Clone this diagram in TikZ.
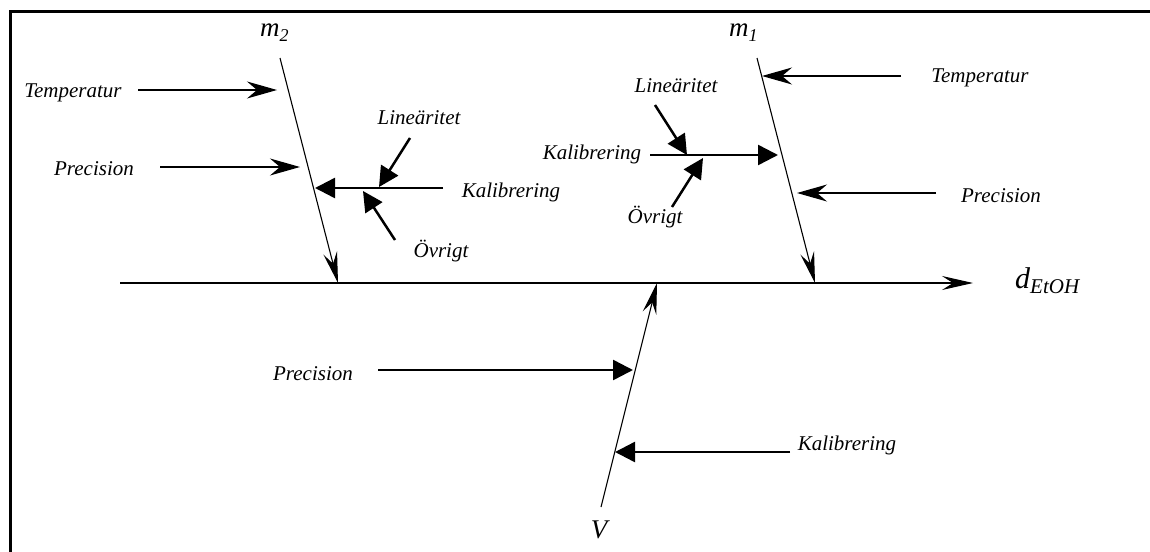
\documentclass[tikz,border=0pt]{standalone}
\usepackage{fontspec}
\setmainfont{Liberation Serif}
\usetikzlibrary{arrows.meta}
\begin{document}
\begin{tikzpicture}[x=1pt,y=-1pt,
  lbl/.style={font=\fontsize{21}{21}\selectfont\itshape, inner sep=0pt, anchor=base},
  var/.style={font=\fontsize{27}{27}\selectfont\itshape, inner sep=0pt, anchor=base west},
  spine/.style={line width=1.1pt, -{Stealth[length=31pt,width=14pt,inset=11pt]}},
  cause/.style={line width=1.1pt, -{Stealth[length=30pt,width=17pt,inset=10pt]}},
  subcause/.style={line width=2.5pt, -{Triangle[length=20pt,width=20pt]}},
  frame/.style={line width=2.7pt}]
\useasboundingbox (0,0) rectangle (1150,551);

% frame (only its left and top sides fall inside the page)
\draw[frame] (10.7,600) -- (10.7,11.3) -- (1200,11.3);

% main axis
\coordinate (a0) at (120,283);
\coordinate (a1) at (973,283);
\draw[spine] (a0) -- (a1);
\node[var, font=\fontsize{30}{30}\selectfont\itshape] (d) at (1015,288)
  {d\raisebox{-5pt}{\fontsize{21}{21}\selectfont EtOH}};

% m2 bone
\node[var] (m2) at (260,37) {m\raisebox{-5pt}{\fontsize{18}{18}\selectfont 2}};
\coordinate (m2top) at (280,58);
\coordinate (m2foot) at (338,283);
\draw[spine] (m2top) -- (m2foot);

\node[lbl] (t2) at (73,97) {Temperatur};
\coordinate (t2s) at (138,90); \coordinate (t2e) at (277,90);
\draw[cause] (t2s) -- (t2e);

\node[lbl] (p2) at (94,175) {Precision};
\coordinate (p2s) at (160,167); \coordinate (p2e) at (300,167);
\draw[cause] (p2s) -- (p2e);

\node[lbl] (k2) at (511,197) {Kalibrering};
\coordinate (k2s) at (443,188); \coordinate (k2e) at (315,188);
\draw[subcause] (k2s) -- (k2e);

\node[lbl] (l2) at (419,124) {Lineäritet};
\coordinate (l2s) at (410,138); \coordinate (l2e) at (379,187);
\draw[subcause] (l2s) -- (l2e);

\node[lbl] (o2) at (441,257) {Övrigt};
\coordinate (o2s) at (395,240); \coordinate (o2e) at (363,191);
\draw[subcause] (o2s) -- (o2e);

% m1 bone
\node[var] (m1) at (729,37) {m\raisebox{-5pt}{\fontsize{18}{18}\selectfont 1}};
\coordinate (m1top) at (757,58);
\coordinate (m1foot) at (815,283);
\draw[spine] (m1top) -- (m1foot);

\node[lbl] (t1) at (980,82) {Temperatur};
\coordinate (t1s) at (901,76); \coordinate (t1e) at (762,76);
\draw[cause] (t1s) -- (t1e);

\node[lbl] (p1) at (1001,202) {Precision};
\coordinate (p1s) at (936,193); \coordinate (p1e) at (797,193);
\draw[cause] (p1s) -- (p1e);

\node[lbl] (k1) at (592,159) {Kalibrering};
\coordinate (k1s) at (650,155); \coordinate (k1e) at (778,155);
\draw[subcause] (k1s) -- (k1e);

\node[lbl] (l1) at (676,92) {Lineäritet};
\coordinate (l1s) at (655,105); \coordinate (l1e) at (687,155);
\draw[subcause] (l1s) -- (l1e);

\node[lbl] (o1) at (655,223) {Övrigt};
\coordinate (o1s) at (672,207); \coordinate (o1e) at (703,158);
\draw[subcause] (o1s) -- (o1e);

% V bone
\node[lbl, font=\fontsize{27}{27}\selectfont\itshape] (V) at (599,538) {V};
\coordinate (vfoot) at (601,507);
\coordinate (vtop) at (657,283);
\draw[spine] (vfoot) -- (vtop);

\node[lbl] (pv) at (313,380) {Precision};
\coordinate (pvs) at (378,370); \coordinate (pve) at (633,370);
\draw[subcause] (pvs) -- (pve);

\node[lbl] (kv) at (847,450) {Kalibrering};
\coordinate (kvs) at (790,452); \coordinate (kve) at (615,452);
\draw[subcause] (kvs) -- (kve);
\end{tikzpicture}
\end{document}
